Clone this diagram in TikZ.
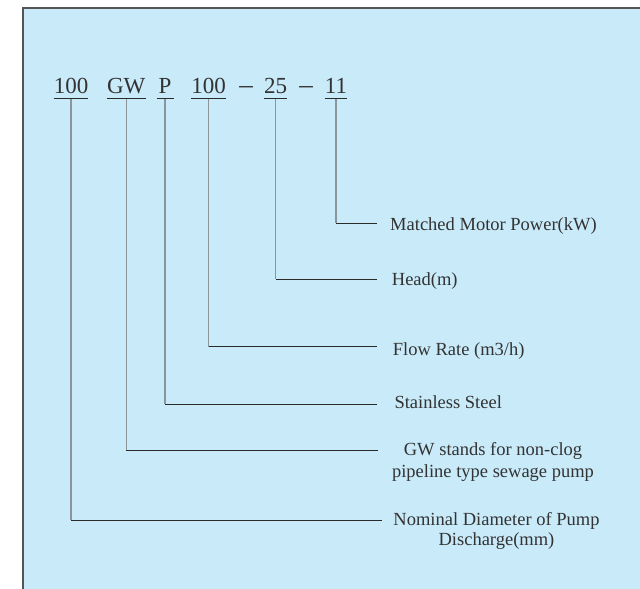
\documentclass[tikz,border=0pt]{standalone}
\usepackage{fontspec}
\setmainfont{Liberation Serif}
\begin{document}
\begin{tikzpicture}[x=1pt,y=-1pt,
  code/.style={inner xsep=0pt,inner ysep=4.8pt,anchor=base,text=txt,font=\fontsize{23}{23}\selectfont},
  dashsym/.style={inner sep=0pt,anchor=base,text=txt,font=\fontsize{27}{27}\selectfont},
  lbl/.style={inner sep=0pt,text=txt,font=\fontsize{18.5}{21}\selectfont},
  uline/.style={draw=hline,line width=1.1pt},
  vline/.style={draw=vgray,line width=1.2pt},
  hl/.style={draw=hline,line width=1pt}]
\definecolor{bg}{HTML}{C8EAF9}
\definecolor{txt}{HTML}{333333}
\definecolor{vgray}{HTML}{8A969C}
\definecolor{hline}{HTML}{2A2A2A}
\definecolor{frm}{HTML}{555555}
\useasboundingbox (0,0) rectangle (640,589);
\fill[white] (0,0) rectangle (640,589);
\draw[fill=bg,draw=frm,line width=1.6pt] (23,8) rectangle (680,630);
% code parts
\node[code,minimum width=33.4pt] (c1) at (71,93.5) {100};
\node[code,minimum width=34pt] (c2) at (126.3,93.5) {GW};
\node[code,minimum width=16.6pt] (c3) at (165,93.5) {P};
\node[code,minimum width=33.4pt] (c4) at (208.5,93.5) {100};
\node[dashsym] (d1) at (246,93.5) {–};
\node[code,minimum width=22.7pt] (c5) at (275.5,93.5) {25};
\node[dashsym] (d2) at (306,93.5) {–};
\node[code,minimum width=21pt] (c6) at (336,93.5) {11};
\foreach \n in {c1,c2,c3,c4,c5,c6}{\draw[uline] (\n.south west) -- (\n.south east);}
% line ends
\coordinate (e6) at (377.3,223.3);
\coordinate (e5) at (377.3,279.3);
\coordinate (e4) at (377.3,346.7);
\coordinate (e3) at (377.3,404.3);
\coordinate (e2) at (378.3,450.7);
\coordinate (e1) at (381.7,520.3);
\foreach \n/\e in {c1/e1,c2/e2,c3/e3,c4/e4,c5/e5,c6/e6}{
  \draw[vline] (\n.south) -- (\n.south |- \e);
  \draw[hl] (\n.south |- \e) -- (\e);
}
% labels
\node[lbl,anchor=base west] (l6) at (390,230) {Matched Motor Power(kW)};
\node[lbl,anchor=base west] (l5) at (391.7,285) {Head(m)};
\node[lbl,anchor=base west] (l4) at (392.7,355) {Flow Rate (m3/h)};
\node[lbl,anchor=base west] (l3) at (394.3,408.3) {Stainless Steel};
\node[lbl,anchor=base] (l2a) at (493,455.7) {GW stands for non-clog};
\node[lbl,anchor=base] (l2b) at (493,477) {pipeline type sewage pump};
\node[lbl,anchor=base] (l1a) at (496.5,525) {Nominal Diameter of Pump};
\node[lbl,anchor=base] (l1b) at (496.5,545.5) {Discharge(mm)};
\end{tikzpicture}
\end{document}
